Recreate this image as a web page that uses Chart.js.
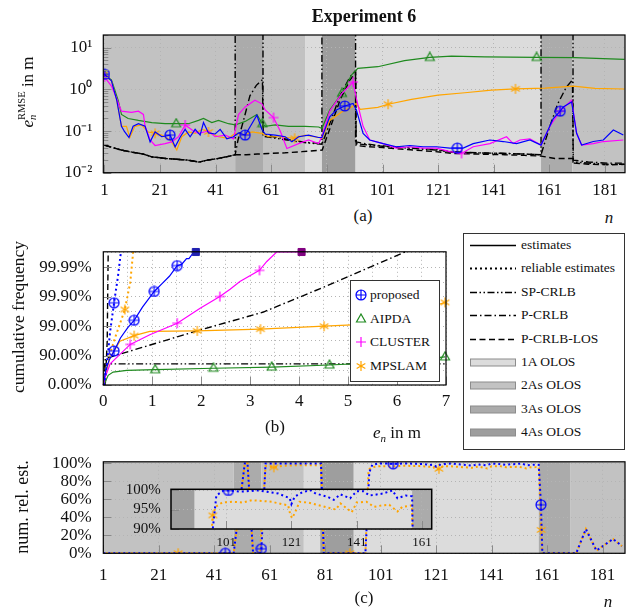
<!DOCTYPE html>
<html>
<head>
<meta charset="utf-8">
<script src="https://cdn.jsdelivr.net/npm/chart.js@4"></script>
<style>
  body { margin: 0; background: #fff; }
  #fig { position: relative; width: 631px; height: 612px; overflow: hidden; background: #fff;
         font-family: 'Liberation Serif', 'Times New Roman', serif; color: #111; }
  #fig canvas { position: absolute; }
  .lbl { position: absolute; line-height: 1; white-space: nowrap; }
  .ytitle { position: absolute; line-height: 1; white-space: nowrap; transform: translate(-50%, -50%) rotate(-90deg); }
  .ss { display: inline-block; vertical-align: -0.28em; font-size: 0.62em; line-height: 1.05; text-align: left; }
  .ss span { display: block; }
  .box { position: absolute; background: #fff; border: 1px solid #333; box-sizing: border-box; }
  .row { position: absolute; left: 0; right: 0; height: 20px; font-size: 13.5px; line-height: 20px; }
  .row span.t { position: absolute; }
  .row canvas, .row svg { position: absolute; }
</style>
</head>
<body>
<div id="fig">
  <canvas id="chartA" width="631" height="200" style="left:0;top:0"></canvas>
  <canvas id="chartB" width="460" height="200" style="left:0;top:230px"></canvas>
  <canvas id="chartC" width="631" height="172" style="left:0;top:440px"></canvas>
  <canvas id="chartInset" width="335" height="80" style="left:105px;top:470px"></canvas>

  <div class="lbl" style="left:364px;top:6.6px;font-size:18px;font-weight:bold;transform:translateX(-50%)">Experiment 6</div>
  <div class="ytitle" style="left:27px;top:92px;font-size:17px"><i>e</i><span class="ss"><span>RMSE</span><span><i>n</i></span></span> in m</div>
  <div class="lbl" style="left:363px;top:207.2px;font-size:17px;transform:translateX(-50%)">(a)</div>
  <div class="lbl" style="left:609px;top:208.7px;font-size:17px;font-style:italic;transform:translateX(-50%)">n</div>

  <div class="ytitle" style="left:19px;top:317px;font-size:17.5px">cumulative frequency</div>
  <div class="lbl" style="left:275px;top:418.2px;font-size:17px;transform:translateX(-50%)">(b)</div>
  <div class="lbl" style="left:373px;top:423.7px;font-size:17px"><i>e</i><sub style="font-size:11px"><i>n</i></sub> in m</div>

  <div class="ytitle" style="left:22px;top:507px;font-size:18px">num. rel. est.</div>
  <div class="lbl" style="left:364px;top:588.7px;font-size:17px;transform:translateX(-50%)">(c)</div>
  <div class="lbl" style="left:608px;top:592.7px;font-size:17px;font-style:italic;transform:translateX(-50%)">n</div>

  <div class="box" id="legB" style="left:350px;top:280px;width:90px;height:102px"></div>
  <div class="box" id="legR" style="left:463px;top:233px;width:162px;height:217px"></div>
</div>
<script>
// ---------- data ----------
const nTicks = [1, 21, 41, 61, 81, 101, 121, 141, 161, 181];

// obstructed-LOS segments along the track (n)
const olosFrom = [0, 48, 58, 73.3, 79.2, 91.3, 158, 169.3];
const olosTo   = [48, 58, 73.3, 79.2, 91.3, 158, 169.3, 190];
const olosType = ['2As', '3As', '2As', '1A', '4As', '1A', '3As', '2As'];

// (a) RMSE in m, pairs [n, value]
const proposedA = [[1,2.3],[3.5,1.6],[5.4,0.55],[7.1,0.13],[8.3,0.095],[9.8,0.07],[11.3,0.13],[13.2,0.15],[15.6,0.13],[17.4,0.055],[19.2,0.095],[21.6,0.073],[24.6,0.08],[26.4,0.042],[28.3,0.073],[30,0.11],[31.8,0.073],[33.6,0.11],[35.4,0.08],[36.6,0.16],[38.4,0.09],[40.8,0.085],[42.6,0.11],[45,0.065],[47.4,0.073],[49.2,0.09],[51.6,0.08],[54,0.15],[55.8,0.24],[57.6,0.11],[58.8,0.085],[62.4,0.08],[66,0.073],[68.4,0.055],[70.8,0.073],[74.4,0.08],[78,0.07],[79.2,0.07],[82,0.22],[84.4,0.32],[87.4,0.4],[90.4,0.46],[91.6,0.32],[94,0.088],[96.4,0.061],[101.2,0.05],[106,0.042],[110.8,0.045],[115.6,0.042],[120.4,0.042],[125.2,0.039],[127.9,0.039],[130,0.039],[133.6,0.05],[139.6,0.061],[144.4,0.056],[149.2,0.05],[154,0.061],[158,0.046],[160,0.088],[162.4,0.2],[164.9,0.3],[166,0.38],[169,0.5],[170.8,0.088],[172.6,0.046],[176.8,0.056],[180.4,0.061],[184,0.106],[187.6,0.08]];
const aipdaA = [[1,2.2],[3.5,1.7],[5.9,0.55],[7.1,0.25],[9.5,0.2],[13.2,0.18],[18,0.16],[22.8,0.15],[26.8,0.15],[31.2,0.15],[34.8,0.18],[36.6,0.2],[39.6,0.16],[42,0.18],[45.6,0.15],[48,0.14],[51.6,0.17],[55.8,0.25],[57.8,0.15],[58.8,0.13],[62.4,0.14],[67.2,0.13],[73.2,0.13],[78,0.125],[79.2,0.116],[82,0.32],[86.4,0.8],[89.8,2.2],[92.1,3.2],[99.3,3.5],[108.9,4.9],[118,5.85],[125.8,6.3],[137.8,6.0],[156.4,5.85],[170.2,5.8],[188,5.25]];
const clusterA = [[1,2.0],[3.5,1.2],[5.4,0.6],[7.1,0.3],[10.7,0.28],[13.2,0.3],[15,0.25],[15.6,0.13],[17.4,0.061],[19.2,0.045],[22.8,0.05],[25.2,0.055],[27.6,0.073],[30,0.14],[33,0.1],[34.8,0.088],[38.4,0.1],[40.8,0.073],[44.4,0.08],[47.4,0.065],[49.2,0.25],[51.6,0.38],[55.1,0.55],[57.6,0.45],[58.8,0.32],[61.8,0.21],[64.2,0.1],[66.6,0.038],[70.8,0.05],[74.4,0.061],[78,0.05],[79.2,0.073],[82,0.3],[86.4,0.8],[90.4,1.5],[91.6,0.6],[94,0.13],[96.4,0.061],[101.2,0.05],[106,0.039],[110.8,0.042],[115.6,0.039],[120.4,0.039],[125.2,0.032],[129.4,0.029],[133.6,0.042],[139.6,0.05],[145.6,0.073],[148,0.05],[150.4,0.061],[154,0.065],[158,0.046],[161.2,0.13],[164.8,0.3],[169,0.55],[170.8,0.088],[172.6,0.046],[176.8,0.05],[180.4,0.056],[187.6,0.061]];
const mpslamA = [[1,2.3],[3.5,1.6],[5.4,0.55],[7.1,0.13],[8.9,0.13],[10.1,0.07],[11.9,0.13],[14.3,0.14],[16.7,0.095],[19.2,0.088],[21.6,0.08],[24.6,0.061],[27,0.035],[28.8,0.073],[31.2,0.095],[33.6,0.088],[36,0.11],[38.4,0.095],[42,0.073],[45.6,0.067],[48,0.088],[51.6,0.08],[54,0.095],[57.6,0.088],[60,0.073],[63.6,0.073],[69.4,0.067],[73.2,0.08],[78,0.07],[79.2,0.067],[82,0.18],[86.4,0.29],[90,0.38],[91.5,0.46],[93,0.33],[99.3,0.37],[103,0.44],[111.4,0.575],[121,0.73],[130.6,0.83],[140.2,0.96],[148.8,1.03],[159.4,1.07],[169.6,1.2],[177.4,1.06],[188,1.02]];

// bounds (1e3 = unbounded, above the axis)
const crlbStart = [[1,0.046],[4,0.04],[7,0.035],[11,0.031],[15,0.028],[18,0.024],[23,0.022],[27,0.021],[31,0.02],[35,0.018],[38,0.02],[42,0.022],[46,0.025],[48,0.027]];
const spCrlbA = crlbStart.concat([[48,1e3],[58,1e3],[58,0.075],[62,0.068],[66,0.062],[70,0.056],[74,0.052],[79.2,0.048],[79.2,1e3],[91.3,1e3],[91.3,0.05],[96,0.046],[101,0.043],[110,0.039],[120,0.035],[126,0.031],[135,0.03],[145,0.029],[152,0.028],[158,0.027],[158,1e3],[169.5,1e3],[169.5,0.018],[175,0.017],[182,0.016],[188,0.016]]);
const pCrlbA = crlbStart.concat([[49,0.06],[51,0.18],[53.3,0.7],[55.6,1.25],[57.8,1.7],[58.1,0.085],[62,0.072],[66,0.065],[70,0.058],[74,0.053],[79.3,0.05],[82.7,0.2],[85.7,0.7],[89.3,2.0],[91.3,2.8],[91.5,0.055],[96,0.048],[101,0.044],[110,0.04],[120,0.036],[126,0.032],[135,0.03],[145,0.029],[152,0.028],[158,0.027],[161,0.12],[164,0.45],[167,1.1],[169.3,1.7],[169.6,0.02],[175,0.018],[182,0.017],[188,0.017]]);
const losCrlbA = crlbStart.concat([[52,0.027],[56,0.028],[60,0.029],[66,0.03],[72,0.032],[79.3,0.035],[82.7,0.15],[85.7,0.55],[89.3,1.7],[91.3,2.4],[91.5,0.045],[96,0.042],[101,0.04],[110,0.036],[120,0.032],[126,0.029],[135,0.028],[145,0.027],[152,0.026],[158,0.025],[163,0.022],[169.6,0.022],[170,0.017],[175,0.016],[182,0.0155],[188,0.0158]]);

const marksProposedA = [1, 24.6, 51.6, 87.4, 127.9, 164.9];
const marksAipdaA = [1, 26.8, 57.8, 86.4, 118, 156.4];
const marksClusterA = [1, 30, 61.8, 90.4, 129.4, 164.8];
const marksMpslamA = [1, 19.2, 38.4, 69.4, 103, 148.8];

// (b) cumulative frequency in %, pairs [error in m, F]
const proposedB = [[0,0],[0.05,68.38],[0.12,85.87],[0.22,93.08],[0.35,97.49],[0.5,98.88],[0.63,99.37],[0.8,99.776],[1.04,99.934],[1.2,99.9645],[1.35,99.98],[1.51,99.9913],[1.6,99.9921],[1.7,99.995],[1.75,99.995],[1.82,99.9965],[1.89,99.997]];
const proposedRelB = [[0.02,0],[0.08,85],[0.14,98.5],[0.22,99.84],[0.3,99.98],[0.36,99.997]];
const aipdaB = [[0,0],[0.03,15],[0.1,53],[0.2,63.7],[0.48,68.4],[1.06,69.8],[2.25,73.1],[3.44,75.5],[4.62,79.1],[5.5,82.2],[6.5,86.8],[6.98,89.0]];
const clusterB = [[0,0],[0.03,41],[0.14,80.9],[0.55,95.83],[0.95,98.05],[1.51,99.21],[1.97,99.75],[2.38,99.902],[2.59,99.945],[2.79,99.97],[3.19,99.9874],[3.34,99.9937],[3.54,99.997],[3.87,99.997],[4.05,99.997]];
const mpslamB = [[0,0],[0.03,47.5],[0.14,88.5],[0.34,96.76],[0.63,97.91],[0.95,98.49],[1.92,98.55],[3.21,98.74],[4.51,99.0],[5.2,99.11],[6.0,99.5],[6.6,99.75],[6.98,99.845]];
const mpslamRelB = [[0.02,0],[0.07,80.9],[0.24,97.49],[0.44,99.73],[0.55,99.967],[0.61,99.997]];
const spCrlbB = [[0.02,0],[0.03,80.9],[7,80.9]];
const pCrlbB = [[0.02,0],[0.04,87.4],[1.91,98.55],[3.27,99.67],[4.56,99.957],[6.16,99.997]];
const losCrlbB = [[0.04,0],[0.08,96.8],[0.1,99.997]];

const marksProposedB = [0.22, 0.63, 1.04, 1.51];
const marksProposedRelB = [0.22];
const marksAipdaB = [1.06, 2.25, 3.44, 4.62, 6.98];
const marksClusterB = [0.55, 1.51, 2.38, 3.19];
const marksMpslamB = [0.63, 1.92, 3.21, 4.51, 6.98];
const marksMpslamRelB = [0.44];

// (c) share of reliable estimates in %, pairs [n, %]
const proposedRelC = [[1,0],[45,0],[48,0],[52,100],[53,100],[55,0],[57.5,0],[58,5],[59.5,100],[62.5,100],[70,100],[79.5,100],[80.5,0],[90,0],[95.5,0],[96.9,90],[98,98.6],[100.2,99.9],[101.7,99.9],[105.5,99.6],[111,99.9],[114,99.5],[117,99.1],[120.5,97.9],[121,96.4],[122,98.3],[124,99.3],[126.7,100],[128.5,99.1],[132,98.3],[134,97.5],[136,98.9],[139,97.9],[141,99.7],[143,99.7],[145,98.6],[149,99.1],[152,99.9],[153.5,97.9],[156,98.6],[158,98.4],[158.8,54],[159.3,0],[171.5,0],[175,27],[178.8,3],[184.8,16],[188,8]];
const mpslamRelC = [[1,0],[28,0],[48,0],[52,100],[53,100],[55,0],[57.5,0],[59.5,97],[62.5,95.6],[66,97.5],[72,98],[79.5,98],[80.5,0],[89.9,0],[95.5,0],[96.6,90],[96.9,93.5],[97.8,95.7],[99.8,96.8],[103,97],[106,96.8],[109,97.4],[112,97.2],[115,97],[118,96.4],[120,96.1],[120.6,93.9],[121.2,92.8],[122,94],[123.5,97],[126,96.8],[129,96.2],[134.6,95],[136,96.6],[139.5,94.3],[141,96.8],[144,97],[146.3,95.7],[149,96.1],[151,96.2],[153.5,94.5],[155,95.7],[157,95.9],[158,96.1],[158.9,26],[159.3,0],[171.5,0],[175,27],[178.8,3],[184.8,16],[188,8]];
const marksProposedC = [45, 58, 105.5, 158.8];
const marksMpslamC = [28, 62.5, 89.9, 122, 158.9];
const marksProposedInset = [101.7];
const marksMpslamInset = [96.9];

// ---------- styling ----------
const BLUE = '#0000ff', GREEN = '#1f8a1f', MAGENTA = '#ff00ff', ORANGE = '#ffa500';
const olosFill = { '1A': '#dcdcdc', '2As': '#c2c2c2', '3As': '#ababab', '4As': '#9e9e9e' };
const GRID = '#b4b4b4';
const DASH_SP = [7, 2.5, 1.5, 2.5, 1.5, 2.5];
const DASH_P = [7, 3, 1.5, 3];
const DASH_LOS = [6, 3.5];
const DOTS = [2, 3];

Chart.defaults.font.family = "'Liberation Serif', 'Times New Roman', serif";
Chart.defaults.color = '#111';

function markerImg(kind, color, size) {
  const c = document.createElement('canvas');
  c.width = c.height = size;
  const g = c.getContext('2d');
  const m = size / 2, r = size / 2 - 1;
  g.strokeStyle = color; g.lineWidth = 1.2;
  g.beginPath();
  if (kind === 'oplus') {
    g.arc(m, m, r, 0, Math.PI * 2);
    g.moveTo(m - r, m); g.lineTo(m + r, m);
    g.moveTo(m, m - r); g.lineTo(m, m + r);
  } else if (kind === 'triangle') {
    g.moveTo(m, m - r); g.lineTo(m + 0.9 * r, m + 0.6 * r); g.lineTo(m - 0.9 * r, m + 0.6 * r); g.closePath();
  } else if (kind === 'plus') {
    g.moveTo(m - r, m); g.lineTo(m + r, m);
    g.moveTo(m, m - r); g.lineTo(m, m + r);
  } else {
    for (const a of [90, 30, 150]) {
      const t = a * Math.PI / 180;
      g.moveTo(m - r * Math.cos(t), m - r * Math.sin(t));
      g.lineTo(m + r * Math.cos(t), m + r * Math.sin(t));
    }
  }
  g.stroke();
  return c;
}
const mk = {
  proposed: () => markerImg('oplus', BLUE, 12),
  aipda: () => markerImg('triangle', GREEN, 12),
  cluster: () => markerImg('plus', MAGENTA, 12),
  mpslam: () => markerImg('asterisk', ORANGE, 12)
};

const xy = arr => arr.map(([x, y]) => ({ x, y }));
const nines = f => -Math.log10(1 - f / 100);
const xyB = arr => arr.map(([x, f]) => ({ x, y: Math.min(nines(f), 4.53) }));

function line(data, color, extra) {
  return Object.assign({ data, borderColor: color, backgroundColor: color, borderWidth: 1.2,
    pointRadius: 0, tension: 0, fill: false }, extra || {});
}
function marks(list, img, square) {
  return {
    pointStyle: c => (c.raw && square !== undefined && c.raw.x === square) ? 'rect' : img,
    pointRadius: c => c.raw && (list.includes(c.raw.x) || c.raw.x === square) ? 5 : 0,
    pointBorderWidth: 1
  };
}

const bandPlugin = {
  id: 'olosBands',
  beforeDraw(chart) {
    const { ctx, chartArea: a, scales: { x } } = chart;
    ctx.save();
    ctx.beginPath(); ctx.rect(a.left, a.top, a.width, a.height); ctx.clip();
    olosFrom.forEach((f, i) => {
      const x0 = x.getPixelForValue(f), x1 = x.getPixelForValue(olosTo[i]);
      ctx.fillStyle = olosFill[olosType[i]];
      ctx.fillRect(x0, a.top, x1 - x0, a.height);
    });
    ctx.restore();
  }
};
const frameTicks = {
  id: 'frameTicks',
  afterDatasetsDraw(chart, args, o) {
    const { ctx, chartArea: a, scales: { x, y } } = chart;
    ctx.save();
    ctx.strokeStyle = '#8a8a8a'; ctx.lineWidth = 1;
    ctx.beginPath();
    x.ticks.forEach(t => {
      if (t.label === '') return;
      const p = Math.round(x.getPixelForValue(t.value)) + 0.5;
      ctx.moveTo(p, a.bottom); ctx.lineTo(p, a.bottom - 8);
    });
    y.ticks.forEach(t => {
      if (t.label === '') return;
      const p = Math.round(y.getPixelForValue(t.value)) + 0.5;
      ctx.moveTo(a.left, p); ctx.lineTo(a.left + 8, p);
    });
    if (o.minorLog) {
      for (let e = -2; e <= 1; e++) for (let m = 2; m <= 9; m++) {
        const v = m * Math.pow(10, e);
        if (v > y.max) break;
        const p = Math.round(y.getPixelForValue(v)) + 0.5;
        ctx.moveTo(a.left, p); ctx.lineTo(a.left + 5, p);
      }
    }
    ctx.stroke();
    ctx.strokeStyle = '#000'; ctx.lineWidth = o.width || 1.2;
    ctx.strokeRect(a.left, a.top, a.width, a.height);
    ctx.restore();
  }
};

const sup = { '-': '⁻', '0': '⁰', '1': '¹', '2': '²' };
const logLabel = v => '10' + String(Math.round(Math.log10(v))).split('').map(ch => sup[ch]).join('');

function axis(extra, size, pad, fontSize) {
  return Object.assign({
    type: 'linear',
    ticks: { autoSkip: false, maxRotation: 0, padding: pad, font: { size: fontSize || 17 }, color: '#111' },
    grid: { color: GRID, drawTicks: false },
    border: { display: false, dash: [1, 3] }
  }, extra);
}
const baseOpts = (padding) => ({
  responsive: false, animation: false, devicePixelRatio: 1,
  layout: { padding },
  plugins: { legend: { display: false }, tooltip: { enabled: false } }
});

// ---------- (a) ----------
const optsA = baseOpts({ top: 35, right: 6, left: 0, bottom: 0 });
optsA.plugins.frameTicks = { minorLog: true };
optsA.scales = {
  x: axis({ min: 0.57, max: 188.2, afterBuildTicks: s => { s.ticks = nTicks.map(v => ({ value: v })); },
            afterFit: s => { s.height = 27.3; } }, 0, 8),
  y: axis({ type: 'logarithmic', min: 0.01, max: 20.2,
            afterBuildTicks: s => { s.ticks = [0.01, 0.1, 1, 10].map(v => ({ value: v })); },
            afterFit: s => { s.width = 103.3; } }, 0, 11)
};
optsA.scales.y.ticks.callback = v => logLabel(v);
new Chart(document.getElementById('chartA'), {
  type: 'line',
  data: { datasets: [
    line(xy(proposedA), BLUE, marks(marksProposedA, mk.proposed())),
    line(xy(clusterA), MAGENTA, marks(marksClusterA, mk.cluster())),
    line(xy(mpslamA), ORANGE, marks(marksMpslamA, mk.mpslam())),
    line(xy(aipdaA), GREEN, marks(marksAipdaA, mk.aipda())),
    line(xy(spCrlbA), '#000', { borderWidth: 1.4, borderDash: DASH_SP }),
    line(xy(pCrlbA), '#000', { borderWidth: 1.4, borderDash: DASH_P }),
    line(xy(losCrlbA), '#000', { borderWidth: 1.4, borderDash: DASH_LOS })
  ] },
  options: optsA,
  plugins: [bandPlugin, frameTicks]
});

// ---------- (b) ----------
const errTicks = [0, 0.5, 1, 1.5, 2, 2.5, 3, 3.5, 4, 4.5, 5, 5.5, 6, 6.5, 7];
const freqTicks = [0, 0.5, 1, 1.5, 2, 2.5, 3, 3.5, 4, 4.5];
const optsB = baseOpts({ top: 18.3, right: 14, left: 0, bottom: 0 });
optsB.plugins.frameTicks = {};
optsB.scales = {
  x: axis({ min: 0, max: 7, afterBuildTicks: s => { s.ticks = errTicks.map(v => ({ value: v })); },
            afterFit: s => { s.height = 45; } }, 0, 6),
  y: axis({ min: 0, max: 4.53, afterBuildTicks: s => { s.ticks = freqTicks.map(v => ({ value: v })); },
            afterFit: s => { s.width = 103.3; } }, 0, 11.6)
};
optsB.scales.x.ticks.callback = v => Number.isInteger(v) ? String(v) : '';
optsB.scales.y.ticks.callback = v => Number.isInteger(v) ? (100 * (1 - Math.pow(10, -v))).toFixed(2) + '%' : '';
new Chart(document.getElementById('chartB'), {
  type: 'line',
  data: { datasets: [
    line(xyB(proposedB), BLUE, Object.assign(marks(marksProposedB, mk.proposed(), 1.89), { pointBackgroundColor: '#2020b0', pointBorderColor: '#2020b0' })),
    line(xyB(proposedRelB), BLUE, Object.assign(marks(marksProposedRelB, mk.proposed()), { borderWidth: 2, borderDash: DOTS })),
    line(xyB(clusterB), MAGENTA, Object.assign(marks(marksClusterB, mk.cluster(), 4.05), { pointBackgroundColor: '#800080', pointBorderColor: '#800080' })),
    line(xyB(mpslamRelB), ORANGE, Object.assign(marks(marksMpslamRelB, mk.mpslam()), { borderWidth: 2, borderDash: DOTS })),
    line(xyB(mpslamB), ORANGE, marks(marksMpslamB, mk.mpslam())),
    line(xyB(aipdaB), GREEN, marks(marksAipdaB, mk.aipda())),
    line(xyB(spCrlbB), '#000', { borderWidth: 1.4, borderDash: DASH_SP }),
    line(xyB(pCrlbB), '#000', { borderWidth: 1.4, borderDash: DASH_P }),
    line(xyB(losCrlbB), '#000', { borderWidth: 1.4, borderDash: DASH_LOS })
  ].map(d => Object.assign(d, { clip: 6 })) },
  options: optsB,
  plugins: [frameTicks]
});

// ---------- (c) ----------
const pctTicks = [0, 20, 40, 60, 80, 100];
const optsC = baseOpts({ top: 21, right: 6, left: 0, bottom: 0 });
optsC.plugins.frameTicks = {};
optsC.scales = {
  x: axis({ min: 1, max: 189.1, afterBuildTicks: s => { s.ticks = nTicks.map(v => ({ value: v })); },
            afterFit: s => { s.height = 58.7; } }, 0, 12.5),
  y: axis({ min: 0, max: 101.8, afterBuildTicks: s => { s.ticks = pctTicks.map(v => ({ value: v })); },
            afterFit: s => { s.width = 103.3; } }, 0, 11.6)
};
optsC.scales.y.ticks.callback = v => v + '%';
new Chart(document.getElementById('chartC'), {
  type: 'line',
  data: { datasets: [
    line(xy(proposedRelC), BLUE, Object.assign(marks(marksProposedC, mk.proposed()), { borderWidth: 2, borderDash: DOTS })),
    line(xy(mpslamRelC), ORANGE, Object.assign(marks(marksMpslamC, mk.mpslam()), { borderWidth: 2, borderDash: DOTS, borderDashOffset: 2.5 }))
  ] },
  options: optsC,
  plugins: [bandPlugin, frameTicks]
});

// ---------- (c) inset ----------
const insetNTicks = [101, 121, 141, 161];
const insetPctTicks = [90, 95, 100];
const optsI = baseOpts({ top: 12.3, right: 8.3, left: 0, bottom: 0 });
optsI.plugins.frameTicks = { width: 1.5 };
optsI.scales = {
  x: axis({ min: 84.1, max: 164, afterBuildTicks: s => { s.ticks = insetNTicks.map(v => ({ value: v })); },
            afterFit: s => { s.height = 21; } }, 0, 5.9, 13),
  y: axis({ min: 90, max: 100.2, afterBuildTicks: s => { s.ticks = insetPctTicks.map(v => ({ value: v })); },
            afterFit: s => { s.width = 66; } }, 0, 10.3, 15)
};
optsI.scales.y.ticks.callback = v => v + '%';
new Chart(document.getElementById('chartInset'), {
  type: 'line',
  data: { datasets: [
    line(xy(proposedRelC), BLUE, Object.assign(marks(marksProposedInset, mk.proposed()), { borderWidth: 2, borderDash: DOTS })),
    line(xy(mpslamRelC), ORANGE, Object.assign(marks(marksMpslamInset, mk.mpslam()), { borderWidth: 2, borderDash: DOTS, borderDashOffset: 2.5 }))
  ] },
  options: optsI,
  plugins: [bandPlugin, frameTicks]
});

// ---------- legends ----------
const legB = document.getElementById('legB');
[['proposed', mk.proposed()], ['AIPDA', mk.aipda()], ['CLUSTER', mk.cluster()], ['MPSLAM', mk.mpslam()]]
  .forEach(([name, img], i) => {
    const row = document.createElement('div');
    row.className = 'row';
    row.style.top = (4 + i * 23.5) + 'px';
    img.style.left = '4px'; img.style.top = '4px';
    row.appendChild(img);
    const t = document.createElement('span');
    t.className = 't'; t.style.left = '19px'; t.textContent = name;
    row.appendChild(t);
    legB.appendChild(row);
  });

const legR = document.getElementById('legR');
const legRows = [
  ['estimates', 'line', ''], ['reliable estimates', 'line', DOTS.join(' ')],
  ['SP-CRLB', 'line', DASH_SP.join(' ')], ['P-CRLB', 'line', DASH_P.join(' ')],
  ['P-CRLB-LOS', 'line', DASH_LOS.join(' ')],
  ['1A OLOS', 'box', '1A'], ['2As OLOS', 'box', '2As'], ['3As OLOS', 'box', '3As'], ['4As OLOS', 'box', '4As']
];
legRows.forEach(([name, kind, sty], i) => {
  const row = document.createElement('div');
  row.className = 'row';
  row.style.top = (1 + i * 23.4) + 'px';
  const svg = kind === 'line'
    ? `<svg width="48" height="20" style="left:5px;top:0"><line x1="1" y1="10.5" x2="47" y2="10.5" stroke="#000" stroke-width="${sty === DOTS.join(' ') ? 2 : 1.3}" ${sty ? `stroke-dasharray="${sty}"` : ''}/></svg>`
    : `<svg width="48" height="20" style="left:5px;top:0"><rect x="1.5" y="7" width="45" height="7" fill="${olosFill[sty]}" stroke="#8c8c8c" stroke-width="1"/></svg>`;
  row.innerHTML = svg + `<span class="t" style="left:57px">${name}</span>`;
  legR.appendChild(row);
});
</script>
</body>
</html>
